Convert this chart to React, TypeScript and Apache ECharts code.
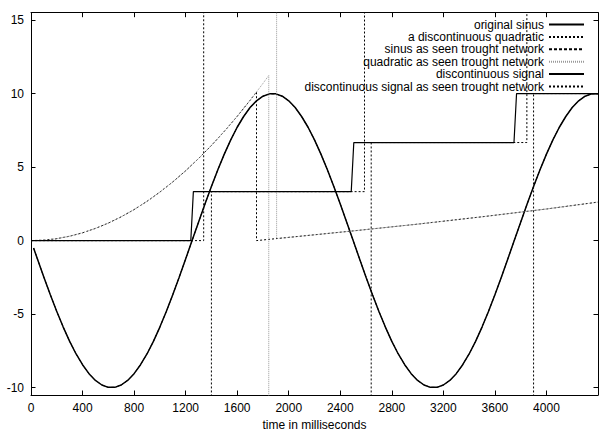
import React, { useEffect, useRef } from "react";
import * as echarts from "echarts";

// ---- data ----
const seriesNames = [
  "original sinus",
  "a discontinuous quadratic",
  "sinus as seen trought network",
  "quadratic as seen trought network",
  "discontinuous signal",
  "discontinuous signal as seen trought network",
];

// sine: first sample, then samples every 50 ms from 50 to 4400
const sineFirst = [20, -0.5];
const sineStep = 50;
const sineValues = [
  -1.25, -2.49, -3.68, -4.82, -5.88, -6.85, -7.71, -8.44, -9.05, -9.51, -9.82, -9.98,
  -9.98, -9.82, -9.51, -9.05, -8.44, -7.71, -6.85, -5.88, -4.82, -3.68, -2.49, -1.25,
  0,
  1.25, 2.49, 3.68, 4.82, 5.88, 6.85, 7.71, 8.44, 9.05, 9.51, 9.82, 9.98,
  9.98, 9.82, 9.51, 9.05, 8.44, 7.71, 6.85, 5.88, 4.82, 3.68, 2.49, 1.25,
  0,
  -1.25, -2.49, -3.68, -4.82, -5.88, -6.85, -7.71, -8.44, -9.05, -9.51, -9.82, -9.98,
  -9.98, -9.82, -9.51, -9.05, -8.44, -7.71, -6.85, -5.88, -4.82, -3.68, -2.49, -1.25,
  0,
  1.25, 2.49, 3.68, 4.82, 5.88, 6.85, 7.71, 8.44, 9.05, 9.51, 9.82, 9.98, 9.98,
];

// rising quadratic part (ms, value)
const quadTimes = [0, 100, 200, 300, 400, 500, 600, 700, 800, 900, 1000, 1100, 1200, 1300, 1400, 1500, 1600, 1700, 1750];
const quadValues = [0, 0.03, 0.13, 0.3, 0.53, 0.83, 1.19, 1.62, 2.11, 2.67, 3.3, 3.99, 4.75, 5.58, 6.47, 7.43, 8.45, 9.54, 10.11];
// second, slowly rising part after the discontinuity
const slowTimes = [1750, 2000, 2500, 3000, 3500, 4000, 4400];
const slowValues = [0, 0.22, 0.66, 1.12, 1.62, 2.15, 2.62];
// network view of the quadratic: continues further, then spikes
const netQuadTailTimes = [1800, 1845, 1846, 1875, 1904, 1906];
const netQuadTailValues = [10.69, 11.23, -1000, null, 1000, 0.14];

// discontinuous signal (solid)
const stepTimes = [0, 1240, 1260, 2485, 2505, 3748, 3768, 4400];
const stepValues = [0, 0, 3.33, 3.33, 6.67, 6.67, 10, 10];
// discontinuous signal as seen through the network (spikes run off the chart)
const netStepTimes = [0, 1340, 1342, 1370, 1398, 1400, 2588, 2590, 2615, 2638, 2640, 3848, 3850, 3875, 3898, 3900, 4400];
const netStepValues = [0, 0, 1000, null, -1000, 3.33, 3.33, 1000, null, -1000, 6.67, 6.67, 1000, null, -1000, 10, 10];

const xTickStep = 400;
const xMin = 0;
const xMax = 4400;
const yMin = -10.5;
const yMax = 15.5;

const FONT = "'Liberation Sans', Arial, Helvetica, sans-serif";

function zip(t: number[], v: (number | null)[]) {
  return t.map((x, i) => [x, v[i]]);
}

export default function App() {
  const ref = useRef<HTMLDivElement>(null);
  useEffect(() => {
    if (!ref.current) return;
    const chart = echarts.init(ref.current, undefined, { renderer: "svg" });

    const sineData: (number | null)[][] = [sineFirst.slice()];
    sineValues.forEach((v, i) => sineData.push([(i + 1) * sineStep, v]));

    const quadData = [...zip(quadTimes, quadValues), ...zip(slowTimes, slowValues)];
    const netQuadData = [
      ...zip(quadTimes, quadValues),
      ...zip(netQuadTailTimes, netQuadTailValues),
      ...zip(slowTimes.slice(1), slowValues.slice(1)),
    ];
    const stepData = zip(stepTimes, stepValues);
    const netStepData = zip(netStepTimes, netStepValues);

    const base = { type: "line", symbol: "none", showSymbol: false, clip: true, connectNulls: false, xAxisIndex: 0, yAxisIndex: 0 };

    const axisCommon = {
      axisLine: { show: true, onZero: false, lineStyle: { color: "#000", width: 1 } },
      axisTick: { show: true, inside: true, length: 4.5, lineStyle: { color: "#000", width: 1 } },
      splitLine: { show: false },
    };

    const legends = seriesNames.map((n, i) => ({
      data: [n],
      orient: "horizontal",
      right: 14,
      top: 18.5 + i * 12.4,
      align: "right",
      itemWidth: 35,
      itemHeight: 8,
      padding: 0,
      selectedMode: false,
      itemStyle: { opacity: 0, borderWidth: 0 },
      textStyle: { fontSize: 12, lineHeight: 12, fontFamily: FONT, color: "#000" },
    }));

    chart.setOption({
      animation: false,
      backgroundColor: "#fff",
      grid: { left: 31, right: 1, top: 12.7, bottom: 32.5, containLabel: false },
      legend: legends,
      xAxis: [
        {
          type: "value", position: "bottom", min: xMin, max: xMax, interval: xTickStep,
          ...axisCommon,
          axisLabel: { color: "#000", fontSize: 12, fontFamily: FONT, margin: 7, showMaxLabel: false, formatter: (v: number) => String(v) },
          name: "time in milliseconds", nameLocation: "middle", nameGap: 24,
          nameTextStyle: { color: "#000", fontSize: 12, fontFamily: FONT },
        },
        {
          type: "value", position: "top", min: xMin, max: xMax, interval: xTickStep,
          ...axisCommon,
          axisLabel: { show: false },
        },
      ],
      yAxis: [
        {
          type: "value", position: "left", min: yMin, max: yMax, splitNumber: 5,
          ...axisCommon,
          axisLabel: {
            color: "#000", fontSize: 12, fontFamily: FONT, margin: 7,
            formatter: (v: number) => (Math.abs(v % 5) < 1e-9 ? String(v) : ""),
          },
        },
        {
          type: "value", position: "right", min: yMin, max: yMax, splitNumber: 5,
          ...axisCommon,
          axisLabel: { show: false },
        },
      ],
      series: [
        { ...base, name: seriesNames[0], data: sineData, lineStyle: { color: "#000", width: 1.5, type: "solid" }, itemStyle: { color: "#000" } },
        { ...base, name: seriesNames[1], data: quadData, lineStyle: { color: "#000", width: 1, type: [2, 2] }, itemStyle: { color: "#000" } },
        { ...base, name: seriesNames[2], data: sineData, lineStyle: { color: "#000", width: 1, type: [3, 2] }, itemStyle: { color: "#000" } },
        { ...base, name: seriesNames[3], data: netQuadData, lineStyle: { color: "#999", width: 1, type: [1, 1] }, itemStyle: { color: "#999" } },
        { ...base, name: seriesNames[4], data: stepData, lineStyle: { color: "#000", width: 1.2, type: "solid" }, itemStyle: { color: "#000" } },
        { ...base, name: seriesNames[5], data: netStepData, lineStyle: { color: "#000", width: 1, type: [2, 2] }, itemStyle: { color: "#000" } },
      ],
    });
    return () => chart.dispose();
  }, []);
  return <div ref={ref} style={{ position: "fixed", left: 0, top: 0, width: 599, height: 436 }} />;
}
